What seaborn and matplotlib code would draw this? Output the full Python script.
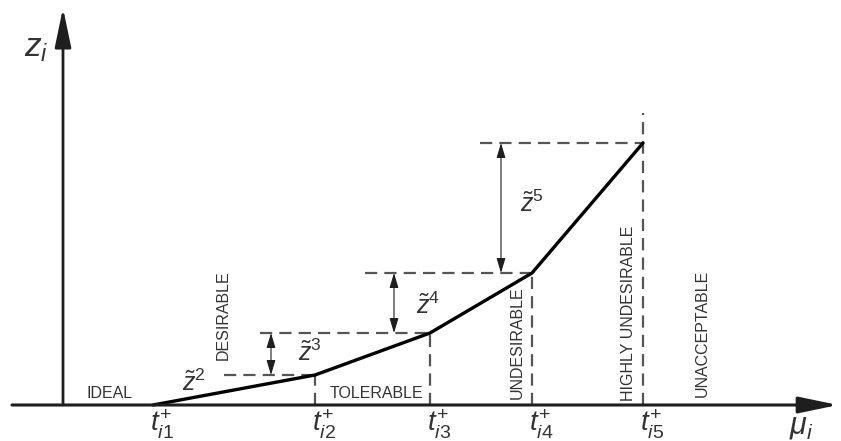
import matplotlib
matplotlib.use("Agg")
import matplotlib.pyplot as plt
import seaborn as sns
import pandas as pd

# ---- data ----
mu_breaks = [90, 252, 367, 469, 580]          # t_i1+ ... t_i5+
z_vals = [0, 30, 72, 132, 262]                 # cumulative z at each breakpoint
tick_labels = [r"$t_{\mathit{i1}}^{+}$", r"$t_{\mathit{i2}}^{+}$", r"$t_{\mathit{i3}}^{+}$",
               r"$t_{\mathit{i4}}^{+}$", r"$t_{\mathit{i5}}^{+}$"]
z_labels = [r"$\tilde{z}^{2}$", r"$\tilde{z}^{3}$", r"$\tilde{z}^{4}$", r"$\tilde{z}^{5}$"]
zone_labels = ["IDEAL", "DESIRABLE", "TOLERABLE", "UNDESIRABLE", "HIGHLY UNDESIRABLE", "UNACCEPTABLE"]
x_label = r"$\mu_{i}$"
y_label = r"$z_{i}$"

# ---- layout (positions in the same axes units) ----
hdash_start = [161, 197, 302, 417]
arrow_x = [208, 331, 438]
t5_top = 292
z_label_pos = [(131, 22), (247, 52), (365, 99), (469, 201)]
zone_pos = [(47, 11, 0), (160, 90, 90), (313, 11, 0), (454, 62, 90), (566, 92, 90), (639, 72, 90)]

sns.set_theme(style="white")
plt.rcParams["font.family"] = ["Liberation Sans", "DejaVu Sans"]
plt.rcParams["mathtext.fontset"] = "custom"
plt.rcParams["mathtext.rm"] = "Liberation Sans"
plt.rcParams["mathtext.it"] = "Liberation Sans:italic"
plt.rcParams["mathtext.bf"] = "Liberation Sans:bold"

fig = plt.figure(figsize=(8.41, 4.41), dpi=100)
ax = fig.add_axes([0, 0, 1, 1])
ax.set_xlim(-63, 778)
ax.set_ylim(-36, 405)
ax.axis("off")

axis_col = "#1e1e1e"
dash_col = "#555555"
text_col = "#333333"

# axes with arrows
ax.annotate("", xy=(775, 0), xytext=(-51, 0),
            arrowprops=dict(arrowstyle="-|>,head_length=1.2,head_width=0.25",
                            mutation_scale=20, lw=2.2, color=axis_col, shrinkA=0, shrinkB=0))
ax.annotate("", xy=(0, 397), xytext=(0, 0),
            arrowprops=dict(arrowstyle="-|>,head_length=1.2,head_width=0.25",
                            mutation_scale=20, lw=2, color=axis_col, shrinkA=0, shrinkB=0))

# dashed guides
dash_kw = dict(color=dash_col, lw=1.6, dashes=(5.5, 3.2))
for i in range(1, 5):
    ax.plot([hdash_start[i - 1], mu_breaks[i]], [z_vals[i], z_vals[i]], **dash_kw)
    top = t5_top if i == 4 else z_vals[i]
    ax.plot([mu_breaks[i], mu_breaks[i]], [0, top], **dash_kw)

# curve
df = pd.DataFrame({"mu": mu_breaks, "z": z_vals})
sns.lineplot(data=df, x="mu", y="z", ax=ax, color="black", lw=2.4, sort=False)
ax.axis("off")

# double arrows
for j, xa in enumerate(arrow_x):
    ax.annotate("", xy=(xa, z_vals[j + 2]), xytext=(xa, z_vals[j + 1]),
                arrowprops=dict(arrowstyle="<|-|>,head_length=1.0,head_width=0.3",
                                mutation_scale=9, lw=0.8, color=axis_col, shrinkA=0, shrinkB=0))

# z labels
for lab, (xx, yy) in zip(z_labels, z_label_pos):
    ax.text(xx, yy, lab, fontsize=18, color=text_col, ha="center", va="center")

# zone labels
for lab, (xx, yy, rot) in zip(zone_labels, zone_pos):
    ax.text(xx, yy, lab, fontsize=11.5, color=text_col, ha="center", va="center", rotation=rot)

# tick labels
for lab, xb in zip(tick_labels, mu_breaks):
    ax.text(xb + 9, -19, lab, fontsize=20, color=text_col, ha="center", va="center")

ax.text(738, -21, x_label, fontsize=22, color=text_col, ha="center", va="center")
ax.text(-27, 357, y_label, fontsize=24, color=text_col, ha="center", va="center")

fig.savefig("out.png", dpi=100)
